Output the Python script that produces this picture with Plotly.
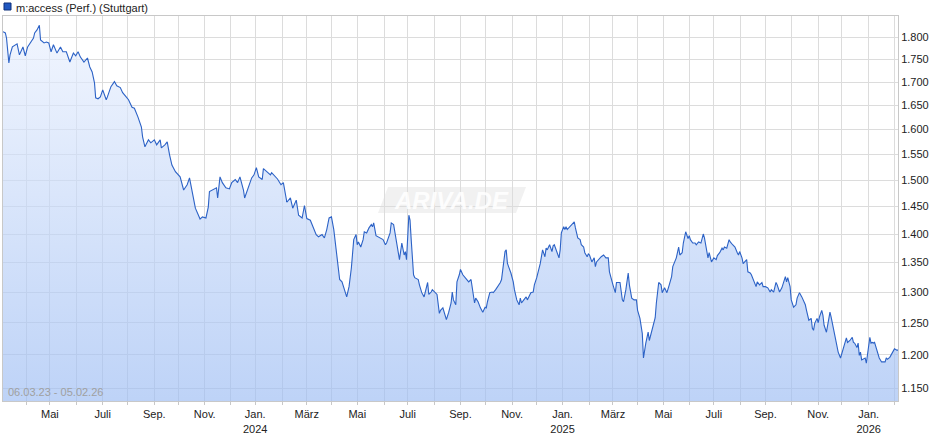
import math
import plotly.graph_objects as go

# ---------------- data ----------------
series_name = "m:access (Perf.) (Stuttgart)"
period_label = "06.03.23 - 05.02.26"

dates = [
    "2023-03-06", "2023-03-08", "2023-03-09", "2023-03-10", "2023-03-13", "2023-03-14", "2023-03-16",
    "2023-03-22", "2023-03-24", "2023-03-29", "2023-03-31", "2023-04-04", "2023-04-07", "2023-04-11",
    "2023-04-12", "2023-04-14", "2023-04-18", "2023-04-19", "2023-04-24", "2023-04-26", "2023-04-28",
    "2023-05-02", "2023-05-04", "2023-05-09", "2023-05-12", "2023-05-16", "2023-05-19", "2023-05-24",
    "2023-05-29", "2023-05-31", "2023-06-02", "2023-06-06", "2023-06-09", "2023-06-14", "2023-06-16",
    "2023-06-20", "2023-06-22", "2023-06-23", "2023-06-27", "2023-06-29", "2023-07-03", "2023-07-06",
    "2023-07-07", "2023-07-12", "2023-07-17", "2023-07-19", "2023-07-24", "2023-07-26", "2023-07-31",
    "2023-08-02", "2023-08-07", "2023-08-09", "2023-08-14", "2023-08-17", "2023-08-18", "2023-08-22",
    "2023-08-25", "2023-08-29", "2023-09-01", "2023-09-05", "2023-09-08", "2023-09-11", "2023-09-14",
    "2023-09-18", "2023-09-20", "2023-09-22", "2023-09-27", "2023-10-03", "2023-10-06", "2023-10-11",
    "2023-10-13", "2023-10-18", "2023-10-20", "2023-10-26", "2023-10-30", "2023-11-02", "2023-11-06",
    "2023-11-07", "2023-11-10", "2023-11-15", "2023-11-16", "2023-11-20", "2023-11-22", "2023-11-27",
    "2023-11-30", "2023-12-04", "2023-12-07", "2023-12-11", "2023-12-13", "2023-12-18", "2023-12-19",
    "2023-12-22", "2023-12-27", "2023-12-29",
    "2024-01-02", "2024-01-04", "2024-01-09", "2024-01-10", "2024-01-15", "2024-01-18", "2024-01-19",
    "2024-01-24", "2024-01-26", "2024-01-31", "2024-02-02", "2024-02-07", "2024-02-12", "2024-02-14",
    "2024-02-19", "2024-02-21", "2024-02-26", "2024-02-28", "2024-03-01", "2024-03-06", "2024-03-08",
    "2024-03-13", "2024-03-15", "2024-03-20", "2024-03-22", "2024-03-26", "2024-03-28", "2024-04-01",
    "2024-04-03", "2024-04-05", "2024-04-08", "2024-04-10", "2024-04-12", "2024-04-16", "2024-04-18",
    "2024-04-22", "2024-04-24", "2024-04-26", "2024-04-30", "2024-05-01", "2024-05-02", "2024-05-06",
    "2024-05-08", "2024-05-09", "2024-05-13", "2024-05-15", "2024-05-17", "2024-05-20", "2024-05-21",
    "2024-05-23", "2024-05-27", "2024-05-29", "2024-05-31", "2024-06-04", "2024-06-05", "2024-06-10",
    "2024-06-11", "2024-06-13", "2024-06-17", "2024-06-19", "2024-06-20", "2024-06-24", "2024-06-26",
    "2024-06-27", "2024-06-28", "2024-07-02", "2024-07-03", "2024-07-04", "2024-07-05", "2024-07-08",
    "2024-07-09", "2024-07-12", "2024-07-15", "2024-07-17", "2024-07-19", "2024-07-22", "2024-07-24",
    "2024-07-25", "2024-07-29", "2024-07-30", "2024-08-01", "2024-08-05", "2024-08-07", "2024-08-08",
    "2024-08-12", "2024-08-14", "2024-08-15", "2024-08-19", "2024-08-21", "2024-08-22", "2024-08-23",
    "2024-08-27", "2024-08-28", "2024-08-30", "2024-09-02", "2024-09-04", "2024-09-06", "2024-09-09",
    "2024-09-11", "2024-09-13", "2024-09-16", "2024-09-18", "2024-09-19", "2024-09-23", "2024-09-25",
    "2024-09-27", "2024-10-01", "2024-10-02", "2024-10-03", "2024-10-07", "2024-10-09", "2024-10-10",
    "2024-10-14", "2024-10-16", "2024-10-18", "2024-10-21", "2024-10-23", "2024-10-24", "2024-10-25",
    "2024-10-28", "2024-10-29", "2024-10-31", "2024-11-04", "2024-11-05", "2024-11-07", "2024-11-11",
    "2024-11-12", "2024-11-13", "2024-11-15", "2024-11-19", "2024-11-20", "2024-11-21", "2024-11-25",
    "2024-11-27", "2024-11-28", "2024-12-02", "2024-12-04", "2024-12-05", "2024-12-09", "2024-12-11",
    "2024-12-12", "2024-12-13", "2024-12-17", "2024-12-19", "2024-12-20", "2024-12-23", "2024-12-27",
    "2024-12-30", "2024-12-31",
    "2025-01-02", "2025-01-03", "2025-01-06", "2025-01-07", "2025-01-09", "2025-01-13", "2025-01-15",
    "2025-01-16", "2025-01-20", "2025-01-22", "2025-01-23", "2025-01-27", "2025-01-28", "2025-01-30",
    "2025-01-31", "2025-02-03", "2025-02-05", "2025-02-07", "2025-02-10", "2025-02-11", "2025-02-14",
    "2025-02-17", "2025-02-19", "2025-02-21", "2025-02-25", "2025-02-26", "2025-03-03", "2025-03-05",
    "2025-03-06", "2025-03-11", "2025-03-13", "2025-03-14", "2025-03-18", "2025-03-20", "2025-03-21",
    "2025-03-25", "2025-03-27", "2025-03-31", "2025-04-01", "2025-04-03", "2025-04-07", "2025-04-08",
    "2025-04-10", "2025-04-14", "2025-04-15", "2025-04-17", "2025-04-22", "2025-04-23", "2025-04-24",
    "2025-04-25", "2025-04-29", "2025-04-30", "2025-05-02", "2025-05-06", "2025-05-08", "2025-05-12",
    "2025-05-13", "2025-05-15", "2025-05-16", "2025-05-20", "2025-05-21", "2025-05-23", "2025-05-26",
    "2025-05-28", "2025-05-30", "2025-06-02", "2025-06-03", "2025-06-05", "2025-06-09", "2025-06-10",
    "2025-06-12", "2025-06-16", "2025-06-18", "2025-06-19", "2025-06-20", "2025-06-24", "2025-06-25",
    "2025-06-27", "2025-07-01", "2025-07-03", "2025-07-04", "2025-07-08", "2025-07-10", "2025-07-11",
    "2025-07-14", "2025-07-16", "2025-07-18", "2025-07-21", "2025-07-23", "2025-07-25", "2025-07-29",
    "2025-07-30", "2025-07-31", "2025-08-04", "2025-08-05", "2025-08-06", "2025-08-08", "2025-08-11",
    "2025-08-13", "2025-08-14", "2025-08-18", "2025-08-20", "2025-08-21", "2025-08-25", "2025-08-27",
    "2025-08-28", "2025-09-01", "2025-09-03", "2025-09-05", "2025-09-08", "2025-09-10", "2025-09-12",
    "2025-09-15", "2025-09-17", "2025-09-19", "2025-09-23", "2025-09-24", "2025-09-25", "2025-09-26",
    "2025-09-30", "2025-10-01", "2025-10-03", "2025-10-07", "2025-10-08", "2025-10-10", "2025-10-14",
    "2025-10-16", "2025-10-17", "2025-10-20", "2025-10-22", "2025-10-24", "2025-10-27", "2025-10-28",
    "2025-10-29", "2025-10-31", "2025-11-03", "2025-11-04", "2025-11-06", "2025-11-07", "2025-11-10",
    "2025-11-12", "2025-11-14", "2025-11-17", "2025-11-18", "2025-11-19", "2025-11-21", "2025-11-25",
    "2025-11-26", "2025-11-28", "2025-12-02", "2025-12-04", "2025-12-05", "2025-12-08", "2025-12-10",
    "2025-12-12", "2025-12-15", "2025-12-16", "2025-12-18", "2025-12-19", "2025-12-22", "2025-12-23",
    "2025-12-24", "2025-12-29", "2025-12-30",
    "2026-01-02", "2026-01-05", "2026-01-06", "2026-01-07", "2026-01-08", "2026-01-12", "2026-01-13",
    "2026-01-14", "2026-01-16", "2026-01-19", "2026-01-21", "2026-01-22", "2026-01-23", "2026-01-27",
    "2026-01-29", "2026-01-30", "2026-02-02", "2026-02-04", "2026-02-05",
]

values = [
    1.813, 1.810, 1.798, 1.771, 1.742, 1.760, 1.778,
    1.785, 1.760, 1.778, 1.758, 1.778, 1.789, 1.798,
    1.810, 1.817, 1.828, 1.794, 1.787, 1.789, 1.787,
    1.767, 1.783, 1.764, 1.778, 1.767, 1.767, 1.744,
    1.764, 1.758, 1.767, 1.755, 1.744, 1.753, 1.733,
    1.722, 1.698, 1.666, 1.664, 1.668, 1.683, 1.662,
    1.668, 1.690, 1.701, 1.692, 1.688, 1.677, 1.668,
    1.662, 1.646, 1.644, 1.626, 1.605, 1.585, 1.565,
    1.579, 1.573, 1.579, 1.569, 1.579, 1.563, 1.569,
    1.575, 1.549, 1.529, 1.516, 1.506, 1.481, 1.491,
    1.504, 1.466, 1.447, 1.427, 1.431, 1.429, 1.449,
    1.478, 1.481, 1.485, 1.466, 1.506, 1.495, 1.485,
    1.483, 1.495, 1.501, 1.495, 1.506, 1.481, 1.466,
    1.485, 1.504, 1.510,
    1.524, 1.506, 1.501, 1.522, 1.516, 1.510, 1.514,
    1.506, 1.502, 1.491, 1.495, 1.458, 1.466, 1.447,
    1.462, 1.434, 1.429, 1.452, 1.428, 1.425, 1.413,
    1.399, 1.395, 1.399, 1.393, 1.408, 1.429, 1.431,
    1.408, 1.372, 1.351, 1.321, 1.317, 1.304, 1.292,
    1.309, 1.341, 1.390, 1.399, 1.381, 1.386, 1.377,
    1.390, 1.404, 1.402, 1.411, 1.417, 1.413, 1.420,
    1.397, 1.395, 1.393, 1.390, 1.381, 1.384, 1.402,
    1.420, 1.417, 1.390, 1.360, 1.355, 1.384, 1.363,
    1.369, 1.355, 1.434, 1.425, 1.390, 1.360, 1.329,
    1.324, 1.321, 1.312, 1.299, 1.292, 1.299, 1.316,
    1.296, 1.300, 1.304, 1.299, 1.296, 1.265, 1.270,
    1.274, 1.259, 1.255, 1.267, 1.282, 1.300, 1.287,
    1.279, 1.317, 1.329, 1.338, 1.329, 1.324, 1.321,
    1.317, 1.321, 1.309, 1.282, 1.290, 1.284, 1.274,
    1.267, 1.275, 1.274, 1.284, 1.299, 1.300, 1.299,
    1.304, 1.309, 1.316, 1.321, 1.351, 1.369, 1.372,
    1.349, 1.343, 1.332, 1.317, 1.304, 1.287, 1.279,
    1.290, 1.282, 1.287, 1.292, 1.287, 1.292, 1.299,
    1.300, 1.312, 1.324, 1.338, 1.348, 1.372, 1.360,
    1.375, 1.372, 1.381, 1.369, 1.379, 1.381, 1.358,
    1.372, 1.402,
    1.413, 1.408, 1.413, 1.408, 1.413, 1.417, 1.422,
    1.411, 1.393, 1.390, 1.381, 1.377, 1.367, 1.360,
    1.365, 1.363, 1.351, 1.358, 1.343, 1.351, 1.358,
    1.360, 1.363, 1.358, 1.358, 1.334, 1.312, 1.299,
    1.316, 1.316, 1.287, 1.284, 1.304, 1.332, 1.312,
    1.290, 1.287, 1.287, 1.270, 1.257, 1.233, 1.195,
    1.218, 1.235, 1.222, 1.238, 1.258, 1.282, 1.299,
    1.316, 1.312, 1.299, 1.307, 1.299, 1.312, 1.326,
    1.343, 1.355, 1.358, 1.377, 1.363, 1.367, 1.384,
    1.404, 1.392, 1.397, 1.390, 1.384, 1.384, 1.381,
    1.386, 1.384, 1.400, 1.393, 1.381, 1.358, 1.367,
    1.351, 1.358, 1.355, 1.362, 1.367, 1.375, 1.372,
    1.377, 1.375, 1.390, 1.386, 1.381, 1.377, 1.367,
    1.363, 1.369, 1.358, 1.348, 1.351, 1.355, 1.334,
    1.332, 1.329, 1.317, 1.309, 1.317, 1.312, 1.316,
    1.309, 1.309, 1.307, 1.300, 1.304, 1.300, 1.316,
    1.312, 1.300, 1.307, 1.321, 1.326, 1.317, 1.324,
    1.309, 1.287, 1.275, 1.279, 1.290, 1.299, 1.292,
    1.284, 1.279, 1.270, 1.254, 1.257, 1.241, 1.238,
    1.249, 1.257, 1.250, 1.259, 1.270, 1.262, 1.246,
    1.235, 1.254, 1.267, 1.259, 1.250, 1.235, 1.215,
    1.204, 1.195, 1.207, 1.222, 1.226, 1.219, 1.222,
    1.227, 1.219, 1.218, 1.211, 1.218, 1.199, 1.204,
    1.192, 1.195, 1.187,
    1.227, 1.218, 1.219, 1.218, 1.219, 1.207, 1.199,
    1.195, 1.189, 1.189, 1.189, 1.195, 1.193, 1.196,
    1.202, 1.204, 1.209, 1.207, 1.207,
]

# x-axis ticks: first trading day of each month, labels every second month
month_ticks = [
    "2023-04-03", "2023-05-01", "2023-06-01", "2023-07-03", "2023-08-01", "2023-09-01",
    "2023-10-02", "2023-11-01", "2023-12-01", "2024-01-01", "2024-02-01", "2024-03-01",
    "2024-04-01", "2024-05-01", "2024-06-03", "2024-07-01", "2024-08-01", "2024-09-02",
    "2024-10-01", "2024-11-01", "2024-12-02", "2025-01-01", "2025-02-03", "2025-03-03",
    "2025-04-01", "2025-05-01", "2025-06-02", "2025-07-01", "2025-08-01", "2025-09-01",
    "2025-10-01", "2025-11-03", "2025-12-01", "2026-01-01", "2026-02-02",
]
month_labels = [
    "", "Mai", "", "Juli", "", "Sep.",
    "", "Nov.", "", "Jan.<br>2024", "", "März",
    "", "Mai", "", "Juli", "", "Sep.",
    "", "Nov.", "", "Jan.<br>2025", "", "März",
    "", "Mai", "", "Juli", "", "Sep.",
    "", "Nov.", "", "Jan.<br>2026", "",
]

y_ticks = [1.15, 1.20, 1.25, 1.30, 1.35, 1.40, 1.45, 1.50, 1.55, 1.60, 1.65, 1.70, 1.75, 1.80]
y_labels = [f"{v:.3f}" for v in y_ticks]

x_range = ["2023-03-06", "2026-02-05"]
y_range = [1.1311, 1.8496]

# ---------------- figure ----------------
W, H = 940, 435
ML, MR, MT, MB = 3, 42, 16, 34
PW, PH = W - ML - MR, H - MT - MB


def px_x(p):
    return (p - ML) / PW


def px_y(p):
    return (H - MB - p) / PH


FONT = "Liberation Sans, Arial, sans-serif"

fig = go.Figure()
fig.add_trace(go.Scatter(
    x=dates, y=values, mode="lines",
    line=dict(color="#2c62c6", width=1.1),
    fill="tozeroy",
    fillgradient=dict(
        type="vertical",
        colorscale=[[0, "rgba(156,188,243,0.66)"], [1, "rgba(236,242,254,0.66)"]],
        start=y_range[0], stop=y_range[1],
    ),
    hoverinfo="skip", showlegend=False,
))

fig.update_layout(
    width=W, height=H,
    margin=dict(l=ML, r=MR, t=MT, b=MB, autoexpand=False),
    paper_bgcolor="white", plot_bgcolor="white",
    font=dict(family=FONT, size=11, color="#222222"),
    showlegend=False,
    xaxis=dict(
        type="date", range=x_range, automargin=False,
        rangebreaks=[dict(bounds=["sat", "mon"])],
        tickmode="array", tickvals=month_ticks, ticktext=month_labels,
        showgrid=True, gridcolor="#dcdcdc", gridwidth=1,
        ticks="outside", ticklen=3, tickcolor="#c8c8c8",
        showline=True, mirror=True, linecolor="#c8c8c8", linewidth=1,
        zeroline=False, tickfont=dict(size=11, color="#222222"),
    ),
    yaxis=dict(
        type="log", side="right", automargin=False,
        range=[math.log10(y_range[0]), math.log10(y_range[1])],
        tickmode="array", tickvals=y_ticks, ticktext=y_labels,
        showgrid=True, gridcolor="#dcdcdc", gridwidth=1,
        ticks="", showline=True, mirror=True, linecolor="#c8c8c8", linewidth=1,
        zeroline=False, tickfont=dict(size=11, color="#222222"),
    ),
)

# watermark
x0, x1, x2, x3 = px_x(378), px_x(388), px_x(526), px_x(516)
yt, yb = px_y(187), px_y(213)
fig.add_shape(
    type="path", xref="paper", yref="paper",
    path=f"M {x1},{yt} L {x2},{yt} L {x3},{yb} L {x0},{yb} Z",
    fillcolor="rgba(200,200,200,0.25)", line=dict(width=0), layer="below",
)
fig.add_annotation(
    xref="paper", yref="paper", x=px_x(451), y=px_y(200),
    text="ARIVA.DE", showarrow=False, xanchor="center", yanchor="middle",
    font=dict(family=FONT, size=24, color="rgba(255,255,255,0.9)", style="italic", weight="bold"),
)

# legend marker + name
fig.add_shape(
    type="rect", xref="paper", yref="paper",
    x0=px_x(4), x1=px_x(11), y0=px_y(10), y1=px_y(3),
    fillcolor="#2057c0", line=dict(color="#0d2f7a", width=1),
)
fig.add_annotation(
    xref="paper", yref="paper", x=px_x(14), y=px_y(8),
    text=series_name, showarrow=False, xanchor="left", yanchor="middle",
    font=dict(family=FONT, size=11, color="#222222"),
)

# period label
fig.add_annotation(
    xref="paper", yref="paper", x=px_x(6), y=px_y(392),
    text=period_label, showarrow=False, xanchor="left", yanchor="middle",
    font=dict(family=FONT, size=11, color="#a0a0a0"),
)

fig.write_html(
    "out.html",
    config={"displayModeBar": False},
    post_script="document.body.style.margin='0px';",
)
